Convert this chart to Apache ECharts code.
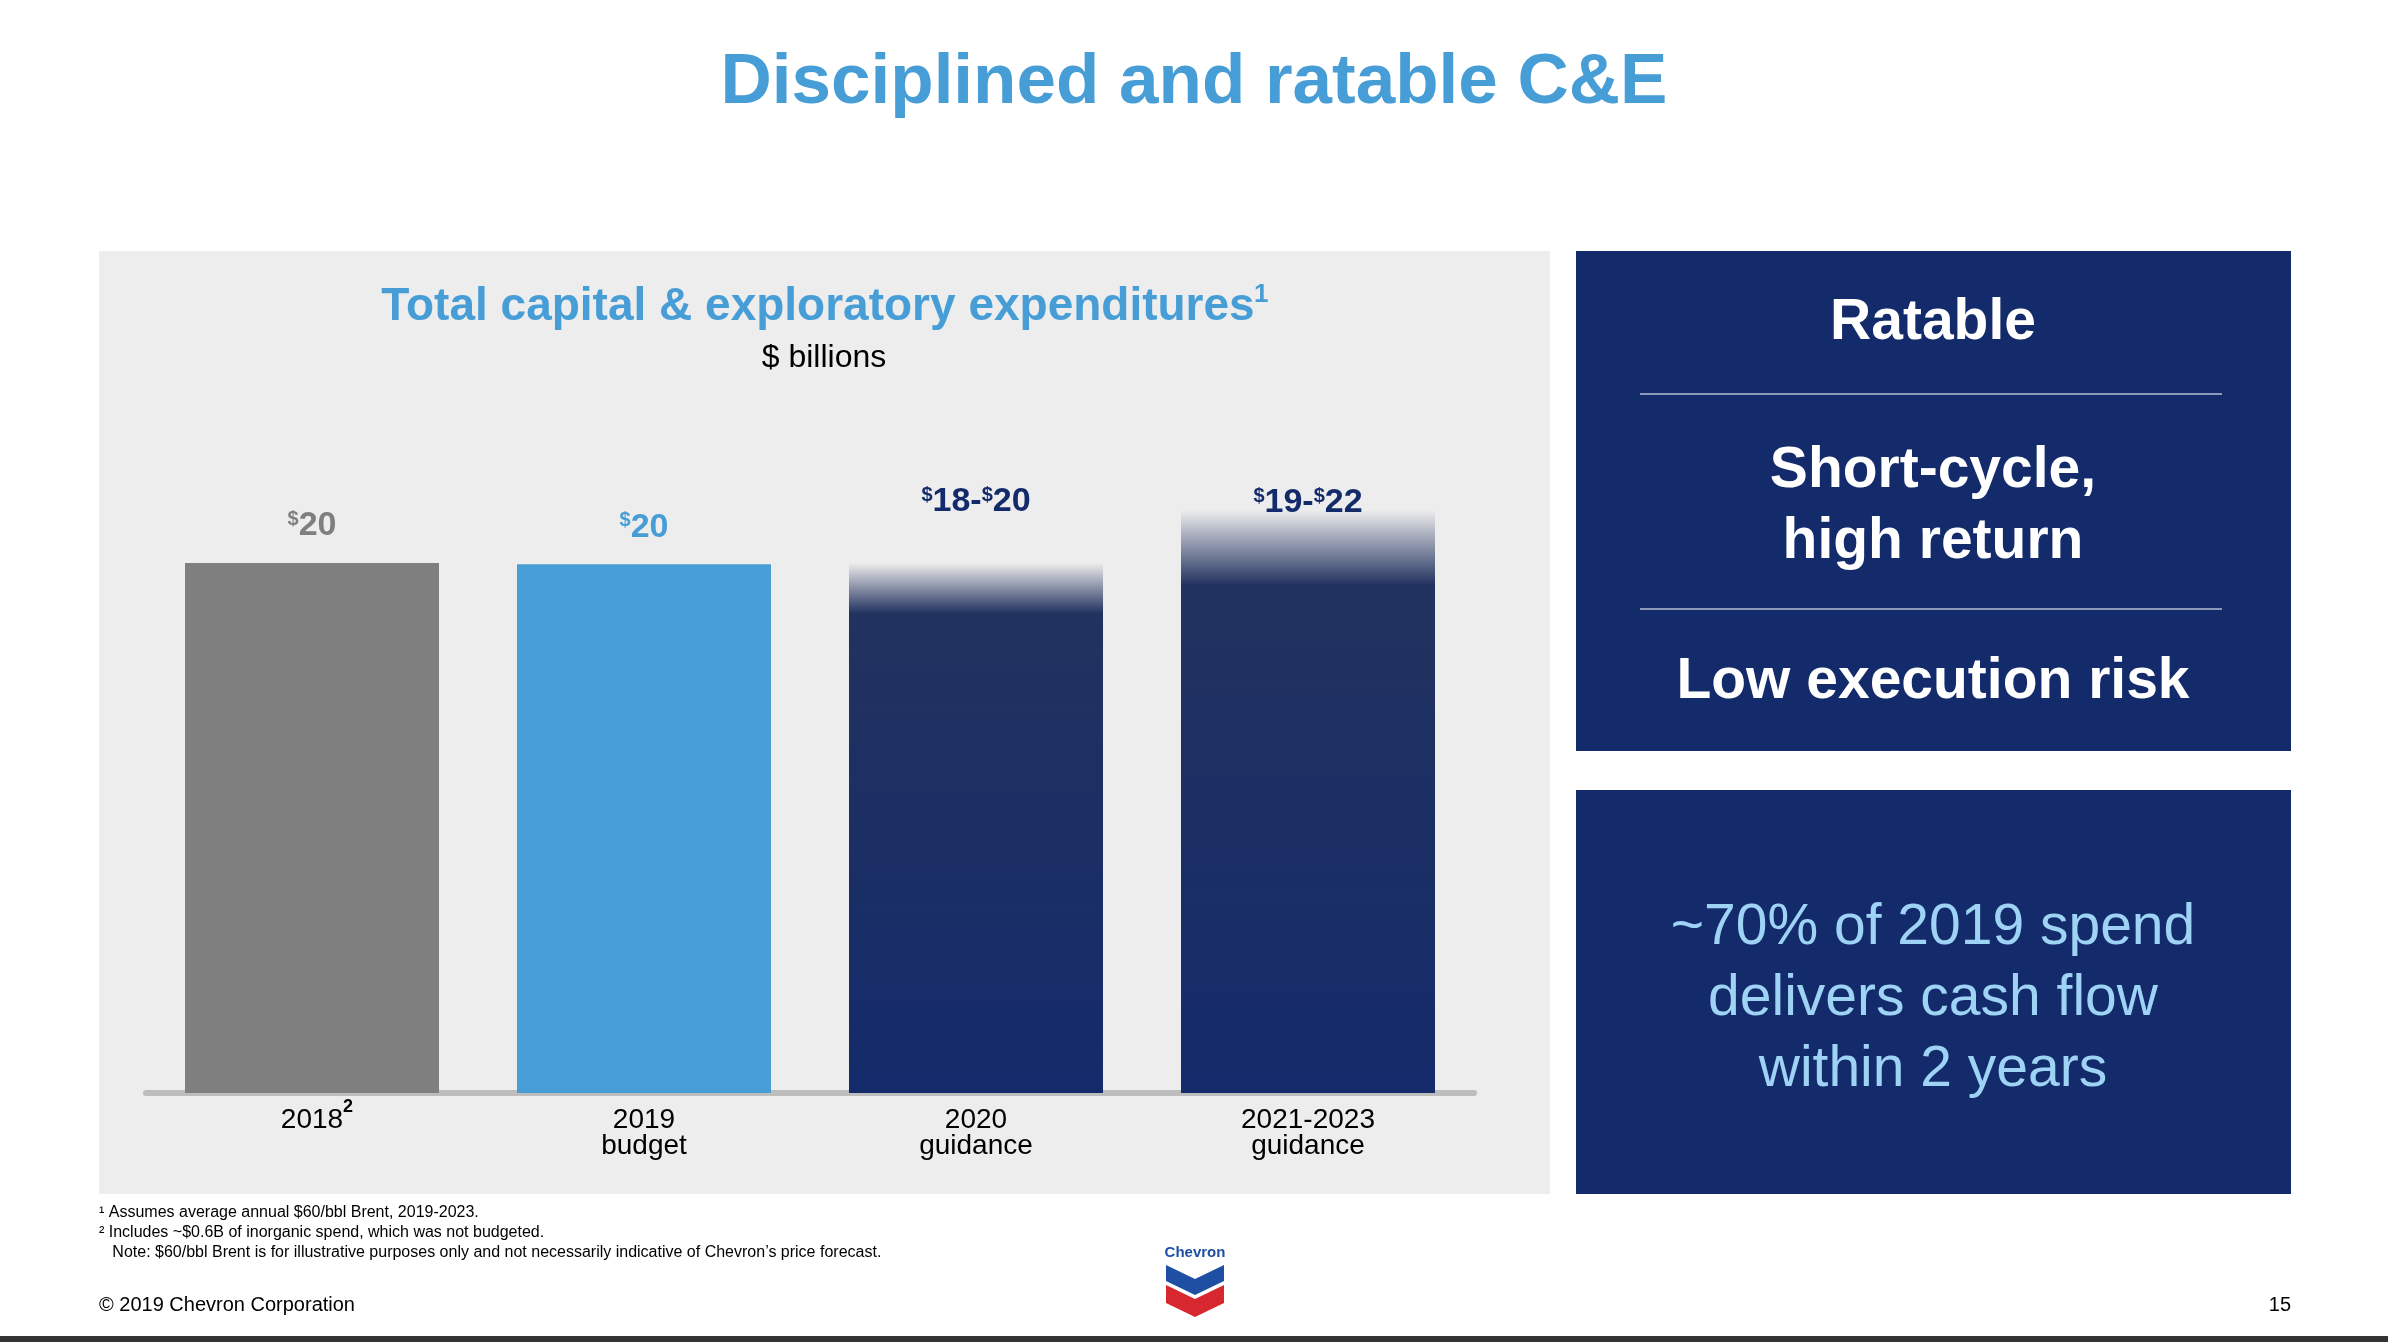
<!DOCTYPE html>
<html>
<head>
<meta charset="UTF-8">
<title>Disciplined and ratable C&amp;E</title>
<script src="https://cdn.jsdelivr.net/npm/echarts@6/dist/echarts.min.js"></script>
<style>body{margin:0;background:#fff}#c{width:2388px;height:1342px}</style>
</head>
<body>
<div id="c"></div>
<script>
// data
var categories = ['2018', '2019', '2020', '2021-2023'];
var subLabels = ['', 'budget', 'guidance', 'guidance'];
var lowValues = [20, 19.95, 18, 19];
var highValues = [20, 19.95, 20, 22];
var valueLabels = ['20', '20', '18-$20', '19-$22'];

var navy = '#142b6b';
var colors = ['#7f7f7f', '#479dd6', navy, navy];
var labelDistance = [20, 20, 44, -10];

var chart = echarts.init(document.getElementById('c'));

function lbl(i) {
  return {
    show: true, position: 'top', distance: labelDistance[i],
    formatter: '{s|$}{v|' + valueLabels[i].replace('$', '}{s|$}{v|') + '}',
    rich: {
      s: {fontSize: 20, fontWeight: 'bold', color: colors[i], verticalAlign: 'top', padding: [0, 0, 14, 0]},
      v: {fontSize: 34, fontWeight: 'bold', color: colors[i]}
    }
  };
}

var barData = highValues.map(function (v, i) {
  var c = colors[i];
  if (highValues[i] > lowValues[i]) {
    var f = (highValues[i] - lowValues[i]) / highValues[i];
    c = new echarts.graphic.LinearGradient(0, 0, 0, 1, [
      {offset: 0, color: 'rgba(34,50,95,0)'},
      {offset: f * 0.95, color: '#22325f'},
      {offset: 1, color: navy}]);
  }
  return {value: v, itemStyle: {color: c}, label: lbl(i)};
});

var font = 'Liberation Sans, Arial, sans-serif';
chart.setOption({
  textStyle: {fontFamily: font},
  graphic: [
    {type: 'rect', shape: {x: 99, y: 251, width: 1451, height: 943}, style: {fill: '#ededed'}, z: -10},
    {type: 'text', left: 'center', top: 48, style: {text: 'Disciplined and ratable C&E', fill: '#479dd6', font: 'bold 71px ' + font}},
    {type: 'text', x: 818, y: 284, style: {text: 'Total capital & exploratory expenditures', fill: '#479dd6', font: 'bold 46px ' + font, textAlign: 'center'}},
    {type: 'text', x: 1254, y: 282, style: {text: '1', fill: '#479dd6', font: 'bold 26px ' + font}},
    {type: 'text', x: 824, y: 342, style: {text: '$ billions', fill: '#000', font: '32px ' + font, textAlign: 'center'}},
    {type: 'text', x: 343, y: 1098, style: {text: '2', fill: '#000', font: 'bold 18px ' + font}},
    // right panels
    {type: 'rect', shape: {x: 1576, y: 251, width: 715, height: 500}, style: {fill: navy}},
    {type: 'text', x: 1933, y: 295, style: {text: 'Ratable', fill: '#fff', font: 'bold 57px ' + font, textAlign: 'center'}},
    {type: 'line', shape: {x1: 1640, y1: 394, x2: 2222, y2: 394}, style: {stroke: '#8c98b8', lineWidth: 2}},
    {type: 'text', x: 1933, y: 436, style: {text: 'Short-cycle,\nhigh return', fill: '#fff', font: 'bold 57px ' + font, textAlign: 'center', lineHeight: 71}},
    {type: 'line', shape: {x1: 1640, y1: 609, x2: 2222, y2: 609}, style: {stroke: '#8c98b8', lineWidth: 2}},
    {type: 'text', x: 1933, y: 654, style: {text: 'Low execution risk', fill: '#fff', font: 'bold 57px ' + font, textAlign: 'center'}},
    {type: 'rect', shape: {x: 1576, y: 790, width: 715, height: 404}, style: {fill: navy}},
    {type: 'text', x: 1933, y: 893, style: {text: '~70% of 2019 spend\ndelivers cash flow\nwithin 2 years', fill: '#9fd3f5', font: '57px ' + font, textAlign: 'center', lineHeight: 71}},
    // footnotes
    {type: 'text', x: 99, y: 1203, style: {text: '\u00b9 Assumes average annual $60/bbl Brent, 2019-2023.\n\u00b2 Includes ~$0.6B of inorganic spend, which was not budgeted.\n   Note: $60/bbl Brent is for illustrative purposes only and not necessarily indicative of Chevron\u2019s price forecast.', fill: '#000', font: '16px ' + font, lineHeight: 20}},
    {type: 'text', x: 99, y: 1295, style: {text: '\u00a9 2019 Chevron Corporation', fill: '#000', font: '20px ' + font}},
    {type: 'text', x: 2291, y: 1295, style: {text: '15', fill: '#000', font: '20px ' + font, textAlign: 'right'}},
    {type: 'rect', shape: {x: 0, y: 1336, width: 2388, height: 6}, style: {fill: '#333'}},
    // logo
    {type: 'text', x: 1195, y: 1245, style: {text: 'Chevron', fill: '#1f4fa3', font: 'bold 15px ' + font, textAlign: 'center'}},
    {type: 'polygon', shape: {points: [[1166, 1265], [1195, 1279], [1224, 1265], [1224, 1281], [1195, 1295], [1166, 1281]]}, style: {fill: '#1f4fa3'}},
    {type: 'polygon', shape: {points: [[1166, 1285], [1195, 1299], [1224, 1285], [1224, 1303], [1195, 1317], [1166, 1303]]}, style: {fill: '#d7282f'}}
  ],
  grid: {left: 146, right: 914, top: 457, bottom: 249},
  xAxis: {
    type: 'category', data: categories,
    axisLine: {lineStyle: {color: '#bdbdbd', width: 6}},
    axisTick: {show: false},
    axisLabel: {
      margin: 14, color: '#000', fontSize: 28, lineHeight: 26,
      formatter: function (v, i) { return subLabels[i] ? v + '\n' + subLabels[i] : v; }
    }
  },
  yAxis: {type: 'value', min: 0, max: 24, show: false, splitLine: {show: false}},
  series: [
    {type: 'bar', barWidth: 254, data: barData}
  ]
});
</script>
</body>
</html>
